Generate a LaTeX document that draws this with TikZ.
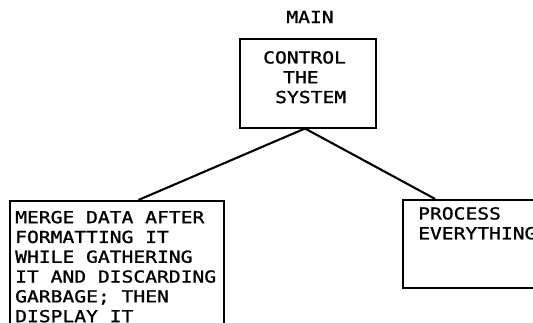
\documentclass[tikz,border=0pt]{standalone}
\usepackage{fontspec}
\newfontfamily\dotmono[FakeStretch=1.19,FakeBold=1.2]{DejaVu Sans Mono}
\usetikzlibrary{calc}
\begin{document}
\begin{tikzpicture}[x=1pt,y=-1pt,
  box/.style={draw, line width=2pt, rectangle, inner sep=0pt, anchor=north west},
  txt/.style={inner sep=0pt, anchor=north west, align=left,
    font=\dotmono\fontsize{16.5}{19.8}\selectfont},
  link/.style={line width=2.1pt}]
\useasboundingbox (0,0) rectangle (533,322);
\clip (0,0) rectangle (533,322);
\fill[white] (0,0) rectangle (533,322);
% boxes
\node[box, minimum width=136pt, minimum height=89pt] (top) at (239,37.5) {};
\node[box, minimum width=214.5pt, minimum height=150pt] (left) at (8.5,200) {};
\node[box, minimum width=160pt, minimum height=88pt] (right) at (402,199) {};
% texts
\node[txt, anchor=center] (main) at (310,17) {MAIN};
\node[txt] (ctl) at (263,51) {CONTROL\\\hspace*{20pt}THE\\\hspace*{12pt}SYSTEM};
\node[txt] (merge) at (15,210.7) {MERGE DATA AFTER\\FORMATTING IT\\WHILE GATHERING\\IT AND DISCARDING\\GARBAGE; THEN\\DISPLAY IT};
\node[txt] (proc) at (418,207) {PROCESS\\EVERYTHING};
% connectors
\coordinate (apex) at ($(top.south)+(-3,0)$);
\draw[link] (apex) -- ($(left.north west)!0.6!(left.north east)$);
\draw[link] (apex) -- ($(right.north west)!0.205!(right.north east)$);
\end{tikzpicture}
\end{document}
